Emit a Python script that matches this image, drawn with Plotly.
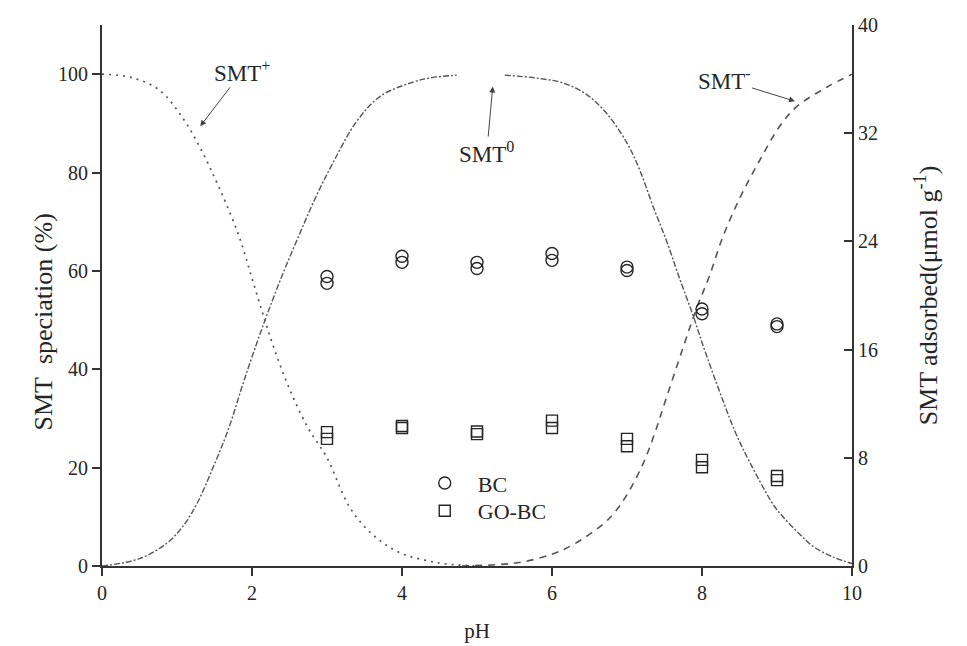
import plotly.graph_objects as go

# Speciation curves (% of total SMT) versus pH
ph_cation = [0, 0.4, 0.77, 1.08, 1.31, 1.5, 1.66, 1.84, 2.0, 2.15, 2.3, 2.5, 2.75,
             3.0, 3.3, 3.6, 3.97, 4.3, 4.6, 5.0]
smt_cation = [100, 99.3, 96.7, 91, 85, 79, 73.5, 66.5, 58.5, 51, 44, 36, 28,
              22, 12, 6.5, 2.7, 1.2, 0.4, 0]

ph_neutral_lo = [0, 0.5, 0.87, 1.1, 1.27, 1.48, 1.68, 1.9, 2.15, 2.4, 2.64, 2.85,
                 3.08, 3.4, 3.71, 4.15, 4.4, 4.73]
smt_neutral_lo = [0, 1.5, 4.7, 8.5, 12.8, 20, 27.6, 38, 49, 59, 67.7, 75,
                  82, 90.5, 95.5, 98.4, 99.3, 99.8]

ph_neutral_hi = [5.37, 5.8, 6.15, 6.45, 6.73, 7.0, 7.17, 7.35, 7.53, 7.7, 7.88,
                 8.01, 8.27, 8.45, 8.64, 8.95, 9.08, 9.3, 9.48, 9.75, 10]
smt_neutral_hi = [99.8, 99.2, 98.2, 96, 92, 86, 80.5, 73, 66, 58.5, 51,
                  45, 34, 27, 21, 12.5, 10, 6.5, 4, 1.8, 0.5]

ph_anion = [4.8, 5.3, 5.6, 6.0, 6.3, 6.68, 6.84, 7.0, 7.22, 7.37, 7.51, 7.75,
            7.93, 8.1, 8.28, 8.51, 8.77, 9.04, 9.27, 9.67, 10]
smt_anion = [0, 0.3, 0.8, 2.4, 4.5, 8.5, 11, 14.5, 21, 27, 33.5, 44.5,
             52.5, 59, 67, 75, 82.5, 89.5, 93.5, 97.4, 100]

# Adsorbed SMT (umol/g), duplicate runs at each pH
ph_runs = [3, 3, 4, 4, 5, 5, 6, 6, 7, 7, 8, 8, 9, 9]
bc_adsorbed = [21.4, 20.9, 22.9, 22.45, 22.45, 22.0, 23.1, 22.6, 22.1, 21.85,
               19.0, 18.65, 17.9, 17.7]
gobc_adsorbed = [9.9, 9.4, 10.35, 10.2, 9.95, 9.75, 10.75, 10.2, 9.4, 8.85,
                 7.85, 7.3, 6.65, 6.35]

FONT = "Liberation Serif, Times New Roman, serif"
INK = "#262626"
LINE = "#555555"

fig = go.Figure()

fig.add_trace(go.Scatter(x=ph_cation, y=smt_cation, mode="lines", showlegend=False,
                         line=dict(color=LINE, width=1.7, dash="2px,5px", shape="spline")))
fig.add_trace(go.Scatter(x=ph_neutral_lo, y=smt_neutral_lo, mode="lines", showlegend=False,
                         line=dict(color=LINE, width=1.4, dash="6px,2px,2px,2px", shape="spline")))
fig.add_trace(go.Scatter(x=ph_neutral_hi, y=smt_neutral_hi, mode="lines", showlegend=False,
                         line=dict(color=LINE, width=1.4, dash="6px,2px,2px,2px", shape="spline")))
fig.add_trace(go.Scatter(x=ph_anion, y=smt_anion, mode="lines", showlegend=False,
                         line=dict(color=LINE, width=1.6, dash="7px,6px", shape="spline")))

fig.add_trace(go.Scatter(x=ph_runs, y=bc_adsorbed, mode="markers", name="BC", yaxis="y2",
                         legend="legend",
                         marker=dict(symbol="circle-open", size=12, color=INK,
                                     line=dict(width=1.4, color=INK))))
fig.add_trace(go.Scatter(x=ph_runs, y=gobc_adsorbed, mode="markers", name="GO-BC", yaxis="y2",
                         legend="legend2",
                         marker=dict(symbol="square-open", size=11, color=INK,
                                     line=dict(width=1.4, color=INK))))

arrow = dict(showarrow=True, arrowhead=2, arrowsize=1.2, arrowwidth=1,
             arrowcolor="#444", font=dict(family=FONT, size=23, color=INK))
fig.add_annotation(x=1.31, y=89.4, ax=42, ay=-55, text="SMT<sup>+</sup>", **arrow)
fig.add_annotation(x=5.21, y=97.5, ax=-6, ay=66, text="SMT<sup>0</sup>", **arrow)
fig.add_annotation(x=9.24, y=94.5, ax=-71, ay=-22, text="SMT<sup>-</sup>", **arrow)

# left-hand axis title
fig.add_annotation(xref="paper", x=0, xshift=-75, y=49.6, textangle=-90,
                   showarrow=False, text="SMT\u00a0 speciation (%)",
                   font=dict(family=FONT, size=26, color=INK))

axis_common = dict(showline=True, linecolor="#333", linewidth=2, ticklen=8,
                   tickwidth=2, tickcolor="#333", showgrid=False, zeroline=False,
                   automargin=False,
                   tickfont=dict(family=FONT, size=20, color=INK))

legend_common = dict(x=0.413, xanchor="left", yanchor="top",
                     bgcolor="rgba(0,0,0,0)", font=dict(family=FONT, size=22, color=INK),
                     itemwidth=56)

fig.update_layout(
    width=967, height=646,
    margin=dict(l=102, r=115, t=25, b=80),
    paper_bgcolor="white", plot_bgcolor="white",
    font=dict(family=FONT, color=INK),
    xaxis=dict(range=[0, 10], tickvals=[0, 2, 4, 6, 8, 10], ticks="outside",
               title=dict(text="pH", font=dict(family=FONT, size=21, color=INK), standoff=20),
               **axis_common),
    yaxis=dict(range=[0, 110], tickvals=[0, 20, 40, 60, 80, 100], ticks="outside",
               **axis_common),
    yaxis2=dict(range=[0, 40], tickvals=[0, 8, 16, 24, 32, 40], ticks="inside",
                overlaying="y", side="right",
                title=dict(text="SMT adsorbed(\u03bcmol g<sup>-1</sup>)",
                           font=dict(family=FONT, size=26, color=INK), standoff=42),
                **axis_common),
    legend=dict(y=0.192, **legend_common),
    legend2=dict(y=0.1405, **legend_common),
)

fig.write_html("out.html")
